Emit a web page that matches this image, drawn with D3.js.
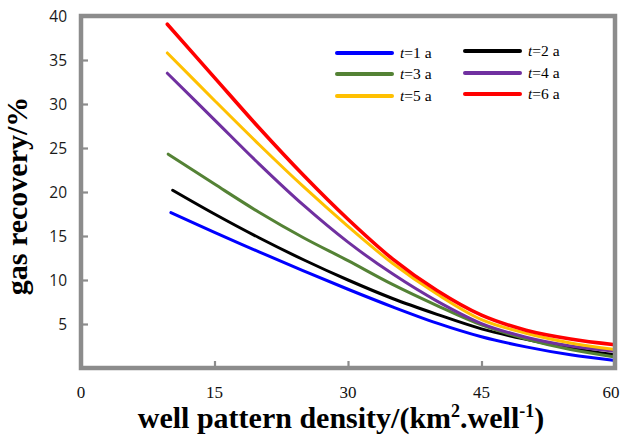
<!DOCTYPE html>
<html><head><meta charset="utf-8">
<script src="https://cdn.jsdelivr.net/npm/d3@7"></script>
<style>body{margin:0;background:#fff}svg{display:block}</style>
</head><body>
<svg id="c" width="624" height="435"></svg>
<script>
// x grid shared by all series; first point of each series starts at its own x
const xsGrid = [15, 20, 25, 30, 35, 40, 45, 50, 55, 60];
const firstX = [10.1, 10.3, 9.8, 9.7, 9.7, 9.7];
const t1 = [17.65, 15.4, 13.2, 11.05, 8.95, 6.95, 5.1, 3.55, 2.4, 1.5, 0.85];
const t2 = [20.2, 17.5, 14.8, 12.3, 10.0, 7.9, 6.1, 4.45, 3.25, 2.25, 1.5];
const t3 = [24.3, 20.9, 17.7, 14.8, 12.2, 9.5, 7.1, 4.9, 3.3, 2.1, 1.25];
const t4 = [33.5, 28.2, 23.2, 18.5, 14.3, 10.7, 7.6, 5.05, 3.5, 2.5, 1.9];
const t5 = [35.8, 30.4, 25.4, 20.6, 16.1, 11.9, 8.4, 5.5, 3.95, 2.85, 2.1];
const t6 = [39.07, 33.0, 27.3, 21.9, 16.9, 12.4, 8.8, 6.0, 4.3, 3.3, 2.65];
const seriesNames = ["1", "2", "3", "4", "5", "6"];
const xTicks = [0, 15, 30, 45, 60];
const yTicks = [5, 10, 15, 20, 25, 30, 35, 40];

const colors = ["#0000ff", "#000000", "#548235", "#7030a0", "#ffc000", "#ff0000"];
const allSeries = [t1, t2, t3, t4, t5, t6];

const svg = d3.select("#c");
const L = 81, R = 615, T = 16, B = 368;
const x = d3.scaleLinear().domain([0, 60]).range([L, R]);
const y = d3.scaleLinear().domain([0, 40]).range([B, T]);
const frameColor = "#8c8c8c";

// curves
const line = d3.line().x(d => x(d[0])).y(d => y(d[1])).curve(d3.curveCatmullRom.alpha(0.5));
allSeries.forEach((s, i) => {
  const xsi = [firstX[i]].concat(xsGrid);
  svg.append("path")
    .datum(xsi.map((v, j) => [v, s[j]]))
    .attr("d", line)
    .attr("fill", "none")
    .attr("stroke", colors[i])
    .attr("stroke-width", i === 5 ? 3.6 : 3)
    .attr("stroke-linecap", "round");
});

// frame
svg.append("rect").attr("x", L).attr("y", T).attr("width", R - L).attr("height", B - T)
  .attr("fill", "none").attr("stroke", frameColor).attr("stroke-width", 4.5);

// y ticks inside
const yAxis = d3.axisRight(y).tickValues(yTicks.filter(v => v < 40)).tickSize(7).tickFormat("");
const gy = svg.append("g").attr("transform", `translate(${L},0)`).call(yAxis);
gy.select(".domain").remove();
gy.selectAll("line").attr("stroke", frameColor).attr("stroke-width", 2.2);

// y labels
svg.append("g").selectAll("text").data(yTicks).join("text")
  .attr("x", L - 14).attr("y", d => y(d)).attr("dy", "0.36em")
  .attr("text-anchor", "end")
  .attr("font-family", "Open Sans, sans-serif").attr("font-size", 15.5).attr("fill", "#1a1a1a")
  .text(d => d);

// x ticks inside
const xAxis = d3.axisTop(x).tickValues(xTicks.filter(v => v > 0 && v < 60)).tickSize(7).tickFormat("");
const gx = svg.append("g").attr("transform", `translate(0,${B})`).call(xAxis);
gx.select(".domain").remove();
gx.selectAll("line").attr("stroke", frameColor).attr("stroke-width", 2.2);

// x labels
svg.append("g").selectAll("text").data(xTicks).join("text")
  .attr("x", d => x(d) - (d === 60 ? 4 : 0)).attr("y", 398)
  .attr("text-anchor", "middle")
  .attr("font-family", "Liberation Serif, Times New Roman, serif").attr("font-size", 17).attr("fill", "#111")
  .text(d => d);

// x title
const xt = svg.append("text").attr("x", 341).attr("y", 428).attr("text-anchor", "middle")
  .attr("font-family", "Liberation Serif, Times New Roman, serif").attr("font-weight", "bold")
  .attr("font-size", 30).attr("fill", "#000");
xt.append("tspan").text("well pattern density/(km");
xt.append("tspan").attr("font-size", 18).attr("dy", -11).text("2");
xt.append("tspan").attr("dy", 11).text(".well");
xt.append("tspan").attr("font-size", 18).attr("dy", -11).text("-1");
xt.append("tspan").attr("dy", 11).text(")");

// y title
svg.append("text").attr("transform", "translate(27,196) rotate(-90)").attr("text-anchor", "middle")
  .attr("font-family", "Liberation Serif, Times New Roman, serif").attr("font-weight", "bold")
  .attr("font-size", 30).attr("fill", "#000")
  .text("gas recovery/%");

// legend
const legPos = [[337, 53], [465, 51], [337, 74], [465, 73], [337, 96], [465, 94]];
seriesNames.forEach((n, i) => {
  const [lx, ly] = legPos[i];
  svg.append("line").attr("x1", lx).attr("x2", lx + 55).attr("y1", ly).attr("y2", ly)
    .attr("stroke", colors[i]).attr("stroke-width", 4).attr("stroke-linecap", "round");
  const t = svg.append("text").attr("x", lx + 63).attr("y", ly + 5)
    .attr("font-family", "Liberation Serif, Times New Roman, serif").attr("font-size", 15.5).attr("fill", "#000");
  t.append("tspan").attr("font-style", "italic").text("t");
  t.append("tspan").text("=" + n + " a");
});
</script>
</body></html>
